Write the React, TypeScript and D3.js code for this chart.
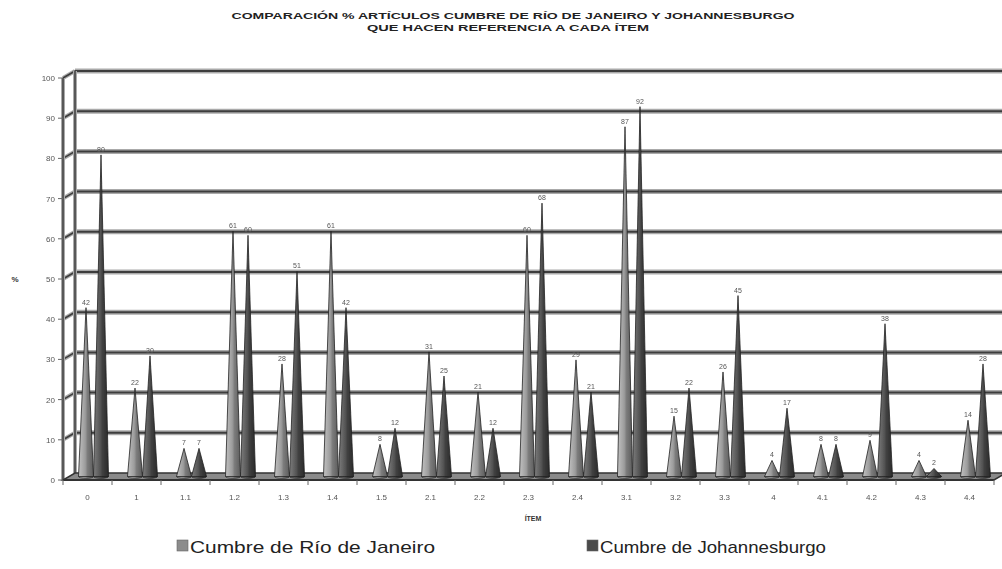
import React from "react";
import * as d3 from "d3";

const categories = ["0", "1", "1.1", "1.2", "1.3", "1.4", "1.5", "2.1", "2.2", "2.3", "2.4", "3.1", "3.2", "3.3", "4", "4.1", "4.2", "4.3", "4.4"];
const seriesNames = ["Cumbre de Río de Janeiro", "Cumbre de Johannesburgo"];
const rioValues = [42, 22, 7, 61, 28, 61, 8, 31, 21, 60, 29, 87, 15, 26, 4, 8, 9, 4, 14];
const johValues = [80, 30, 7, 60, 51, 42, 12, 25, 12, 68, 21, 92, 22, 45, 17, 8, 38, 2, 28];
const yTicks = [0, 10, 20, 30, 40, 50, 60, 70, 80, 90, 100];
const titleLines = ["COMPARACIÓN % ARTÍCULOS CUMBRE DE RÍO DE JANEIRO Y JOHANNESBURGO", "QUE HACEN REFERENCIA A CADA ÍTEM"];

const W = 1002, H = 569;
const DX = 12, DY = -7;

export default function App() {
  const x = d3.scaleBand<string>().domain(categories).range([63, 994]).padding(0);
  const inner = d3.scaleBand<string>().domain(seriesNames).range([-15, 15]).padding(0);
  const y = d3.scaleLinear().domain([0, 100]).range([480, 78]);
  const series = [
    { name: seriesNames[0], values: rioValues, grad: "gRio", legend: "#8c8c8c", lx: 177, tl: 245 },
    { name: seriesNames[1], values: johValues, grad: "gJoh", legend: "#4a4a4a", lx: 587, tl: 226 },
  ];
  const x0 = x.range()[0], x1 = x.range()[1];
  const bw = x.bandwidth();
  const hw = inner.bandwidth() / 2;

  return (
    <svg width={W} height={H} style={{ position: "absolute", left: 0, top: 0, background: "#fff" }} fontFamily="'Liberation Sans', Arial, sans-serif">
      <defs>
        <linearGradient id="gRio" x1="0" x2="1" y1="0" y2="0">
          <stop offset="0" stopColor="#c2c2c2" />
          <stop offset="0.45" stopColor="#9c9c9c" />
          <stop offset="0.6" stopColor="#7c7c7c" />
          <stop offset="1" stopColor="#5c5c5c" />
        </linearGradient>
        <linearGradient id="gJoh" x1="0" x2="1" y1="0" y2="0">
          <stop offset="0" stopColor="#7e7e7e" />
          <stop offset="0.45" stopColor="#555" />
          <stop offset="0.6" stopColor="#404040" />
          <stop offset="1" stopColor="#2a2a2a" />
        </linearGradient>
        <filter id="soft" x="-5%" y="-5%" width="110%" height="110%">
          <feGaussianBlur stdDeviation="0.45" />
        </filter>
      </defs>

      {/* Title */}
      <text x={513} y={19} textAnchor="middle" fontSize={9} fontWeight="bold" fill="#222" textLength={563} lengthAdjust="spacingAndGlyphs">{titleLines[0]}</text>
      <text x={508} y={31} textAnchor="middle" fontSize={9} fontWeight="bold" fill="#222" textLength={282} lengthAdjust="spacingAndGlyphs">{titleLines[1]}</text>

      <g filter="url(#soft)">
        {/* back wall gridlines */}
        {yTicks.filter(t => t > 0).map(t => (
          <g key={"g" + t}>
            <line x1={x0 + DX} x2={W} y1={y(t) + DY} y2={y(t) + DY} stroke="#aaa" strokeWidth={5} />
            <line x1={x0 + DX} x2={W} y1={y(t) + DY} y2={y(t) + DY} stroke="#3c3c3c" strokeWidth={2} />
            <line x1={x0} x2={x0 + DX} y1={y(t)} y2={y(t) + DY} stroke="#aaa" strokeWidth={4} />
            <line x1={x0} x2={x0 + DX} y1={y(t)} y2={y(t) + DY} stroke="#3c3c3c" strokeWidth={1.6} />
          </g>
        ))}
        {/* side wall verticals */}
        <line x1={x0} x2={x0} y1={y(100)} y2={y(0)} stroke="#aaa" strokeWidth={4} />
        <line x1={x0} x2={x0} y1={y(100)} y2={y(0)} stroke="#444" strokeWidth={1.6} />
        <line x1={x0 + DX} x2={x0 + DX} y1={y(100) + DY} y2={y(0) + DY} stroke="#aaa" strokeWidth={4} />
        <line x1={x0 + DX} x2={x0 + DX} y1={y(100) + DY} y2={y(0) + DY} stroke="#444" strokeWidth={1.6} />

        {/* floor */}
        <polygon
          points={`${x0},${y(0)} ${x1},${y(0)} ${x1 + DX},${y(0) + DY} ${x0 + DX},${y(0) + DY}`}
          fill="#8a8a8a" stroke="#333" strokeWidth={1.5}
        />
        <line x1={x0} x2={x1} y1={y(0)} y2={y(0)} stroke="#333" strokeWidth={2} />

        {/* y ticks */}
        {yTicks.map(t => (
          <g key={"yt" + t}>
            <line x1={x0 - 5} x2={x0} y1={y(t)} y2={y(t)} stroke="#666" strokeWidth={1} />
            <text x={x0 - 8} y={y(t) + 3} textAnchor="end" fontSize={8} fill="#555">{t}</text>
          </g>
        ))}

        {/* x ticks */}
        {d3.range(categories.length + 1).map(i => (
          <line key={"xt" + i} x1={x0 + i * bw} x2={x0 + i * bw} y1={y(0)} y2={y(0) + 5} stroke="#666" strokeWidth={1} />
        ))}
        {categories.map(c => (
          <text key={"xl" + c} x={(x(c) as number) + bw / 2} y={500} textAnchor="middle" fontSize={8} fill="#555">{c}</text>
        ))}

        {/* cones */}
        {categories.map((c, i) => (
          <g key={"c" + c}>
            {series.map(s => {
              const cx = (x(c) as number) + bw / 2 + (inner(s.name) as number) + hw + DX / 2;
              const base = y(0) + DY / 2;
              const tip = y(s.values[i]) + DY / 2;
              return (
                <g key={s.name}>
                  <ellipse cx={cx} cy={base} rx={hw} ry={1.8} fill={`url(#${s.grad})`} stroke="#222" strokeWidth={0.7} />
                  <path d={`M${cx - hw},${base} L${cx},${tip} L${cx + hw},${base} Z`} fill={`url(#${s.grad})`} stroke="#222" strokeWidth={0.8} strokeLinejoin="round" />
                  <text x={cx} y={tip - 3} textAnchor="middle" fontSize={7} fill="#555">{s.values[i]}</text>
                </g>
              );
            })}
          </g>
        ))}
      </g>

      {/* axis titles */}
      <text x={15} y={282} textAnchor="middle" fontSize={8} fontWeight="bold" fill="#333">%</text>
      <text x={533} y={521} textAnchor="middle" fontSize={7} fontWeight="bold" fill="#333">ÍTEM</text>

      {/* legend */}
      {series.map((s, i) => (
        <g key={"lg" + i}>
          <rect x={s.lx} y={540} width={11} height={11} fill={s.legend} stroke="#666" strokeWidth={0.6} />
          <text x={s.lx + 13} y={553} fontSize={17} fill="#222" textLength={s.tl} lengthAdjust="spacingAndGlyphs">{s.name}</text>
        </g>
      ))}
    </svg>
  );
}
